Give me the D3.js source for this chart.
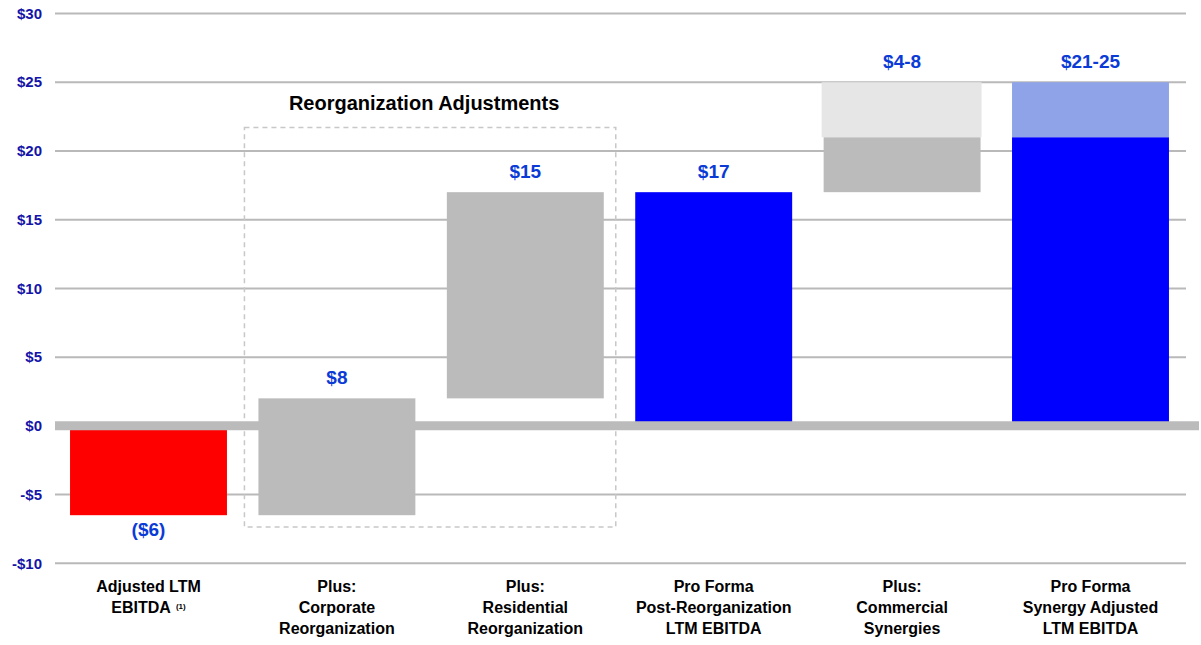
<!DOCTYPE html>
<html><head><meta charset="utf-8">
<script src="https://cdn.jsdelivr.net/npm/d3@7"></script>
<style>
html,body{margin:0;padding:0;background:#fff;}
svg{display:block;}
</style></head>
<body>
<svg id="c" width="1201" height="645"></svg>
<script>
const categories = [
  ["Adjusted LTM", "EBITDA"],
  ["Plus:", "Corporate", "Reorganization"],
  ["Plus:", "Residential", "Reorganization"],
  ["Pro Forma", "Post-Reorganization", "LTM EBITDA"],
  ["Plus:", "Commercial", "Synergies"],
  ["Pro Forma", "Synergy Adjusted", "LTM EBITDA"]
];
const barStart = [0, -6.5, 2, 0, 17, 0];
const barEnd   = [-6.5, 2, 17, 17, 21, 21];
const rangeEnd = [null, null, null, null, 25, 25];
const valueLabels = ["($6)", "$8", "$15", "$17", "$4-8", "$21-25"];
const barKinds = ["neg", "adj", "adj", "total", "adj", "total"];
const yTicks = [-10, -5, 0, 5, 10, 15, 20, 25, 30];
const yTickLabels = ["-$10", "-$5", "$0", "$5", "$10", "$15", "$20", "$25", "$30"];
const groupTitle = "Reorganization Adjustments";

const svg = d3.select("#c");
const x = d3.scaleBand().domain(d3.range(categories.length)).range([54.3, 1184.7]).paddingInner(0.167).paddingOuter(0.0835);
const y = d3.scaleLinear().domain([-10, 30]).range([563.3, 13.5]);

const colors = {neg: "#ff0000", adj: "#bbbbbb", total: "#0000ff"};
const rangeColors = {adj: "#e6e6e6", total: "#8ea3e8"};

// gridlines
svg.append("g").selectAll("line").data(yTicks.filter(d => d !== 0)).join("line")
  .attr("x1", 55).attr("x2", 1186)
  .attr("y1", d => y(d)).attr("y2", d => y(d))
  .attr("stroke", "#b9b9b9").attr("stroke-width", 2);

// y tick labels
svg.append("g").selectAll("text").data(yTicks).join("text")
  .attr("x", 42).attr("y", d => y(d)).attr("dy", "0.35em")
  .attr("text-anchor", "end")
  .attr("font-family", "'Liberation Sans Narrow','Arial Narrow','Liberation Sans',sans-serif")
  .attr("font-weight", "bold").attr("font-size", 15)
  .attr("fill", "#1414a8")
  .text((d, i) => yTickLabels[i]);

// dashed group box
svg.append("rect")
  .attr("x", x(1) - 14).attr("y", 127.5)
  .attr("width", x(2) + x.bandwidth() + 12 - (x(1) - 14))
  .attr("height", 527 - 127.5)
  .attr("fill", "none").attr("stroke", "#c8c8c8").attr("stroke-width", 1.5)
  .attr("stroke-dasharray", "5,4");

svg.append("text")
  .attr("x", (x(1) + x(2) + x.bandwidth()) / 2 - 7).attr("y", 110)
  .attr("text-anchor", "middle")
  .attr("font-family", "'Liberation Sans',Arial,sans-serif")
  .attr("font-weight", "bold").attr("font-size", 20).attr("fill", "#000")
  .text(groupTitle);

const idx = d3.range(categories.length);
const drawBars = (sel) => {
  sel.selectAll("rect.bar").data(sel.datum()).join("rect").attr("class", "bar")
    .attr("x", i => x(i)).attr("width", x.bandwidth())
    .attr("y", i => y(Math.max(barStart[i], barEnd[i])))
    .attr("height", i => Math.abs(y(barStart[i]) - y(barEnd[i])))
    .attr("fill", i => colors[barKinds[i]]);
  sel.selectAll("rect.rng").data(sel.datum().filter(i => rangeEnd[i] !== null)).join("rect").attr("class", "rng")
    .attr("x", i => x(i) - (barKinds[i] === "adj" ? 2 : 0))
    .attr("width", i => x.bandwidth() + (barKinds[i] === "adj" ? 3 : 0))
    .attr("y", i => y(rangeEnd[i]))
    .attr("height", i => y(barEnd[i]) - y(rangeEnd[i]))
    .attr("fill", i => rangeColors[barKinds[i]]);
};
// red/blue bars beneath zero band
svg.append("g").datum(idx.filter(i => barKinds[i] !== "adj")).call(drawBars);
// zero band
svg.append("line").attr("x1", 55).attr("x2", 1199).attr("y1", y(0)).attr("y2", y(0))
  .attr("stroke", "#bbbbbb").attr("stroke-width", 9);
// gray bars above
svg.append("g").datum(idx.filter(i => barKinds[i] === "adj")).call(drawBars);

// value labels
svg.append("g").selectAll("text").data(idx).join("text")
  .attr("x", i => x(i) + x.bandwidth() / 2)
  .attr("y", i => {
    if (barEnd[i] < 0) return y(barEnd[i]) + 21;
    const top = rangeEnd[i] !== null ? rangeEnd[i] : Math.max(barStart[i], barEnd[i]);
    return y(top) - 14;
  })
  .attr("text-anchor", "middle")
  .attr("font-family", "'Liberation Sans',Arial,sans-serif")
  .attr("font-weight", "bold").attr("font-size", 19)
  .attr("fill", "#0b3bd6")
  .text(i => valueLabels[i]);

// category labels
const cat = svg.append("g").selectAll("text").data(idx).join("text")
  .attr("x", i => x(i) + x.bandwidth() / 2)
  .attr("y", 592)
  .attr("text-anchor", "middle")
  .attr("font-family", "'Liberation Sans',Arial,sans-serif")
  .attr("font-weight", "bold").attr("font-size", 16).attr("fill", "#000");
cat.each(function(i) {
  const t = d3.select(this);
  categories[i].forEach((line, k) => {
    t.append("tspan").attr("x", x(i) + x.bandwidth() / 2).attr("dy", k === 0 ? 0 : 21).text(line);
  });
  if (i === 0) {
    t.select("tspan:last-child").append("tspan").attr("font-size", 8).attr("dy", -4).attr("dx", 5).text("(1)");
  }
});
</script>
</body></html>
